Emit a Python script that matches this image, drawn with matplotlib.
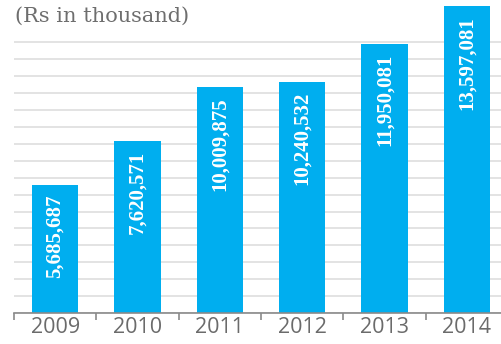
import matplotlib
matplotlib.use("Agg")
import matplotlib.pyplot as plt
import numpy as np

years = ["2009", "2010", "2011", "2012", "2013", "2014"]
values = [5685687, 7620571, 10009875, 10240532, 11950081, 13597081]
labels = ["5,685,687", "7,620,571", "10,009,875", "10,240,532", "11,950,081", "13,597,081"]
title = "(Rs in thousand)"

W, H = 502, 344
fig = plt.figure(figsize=(W / 100, H / 100), dpi=100)
left_px, bottom_px, width_px, height_px = 14, 31, 494, 313
ax = fig.add_axes([left_px / W, bottom_px / H, width_px / W, height_px / H])

x = np.arange(len(years))
ax.bar(x, values, width=0.56, color="#00AEEF", zorder=3)
ax.set_xlim(-0.5, len(years) - 0.5)
ax.set_ylim(0, 13.88e6)

ax.set_yticks(np.arange(0, 12.0e6 + 1, 0.75e6))
ax.yaxis.grid(True, color="#e3e3e3", linewidth=1.4, zorder=0)
ax.tick_params(axis="y", left=False, labelleft=False)

for s in ["top", "right", "left"]:
    ax.spines[s].set_visible(False)
ax.spines["bottom"].set_color("#8a8a8a")
ax.spines["bottom"].set_linewidth(1.2)
ax.spines["bottom"].set_zorder(4)

ax.set_xticks(x)
ax.set_xticklabels(years, fontsize=15.5, color="#6b6b6b", family="Open Sans")
ax.tick_params(axis="x", which="major", length=0, pad=3)
ax.set_xticks(np.arange(-0.5, len(years)), minor=True)
ax.tick_params(axis="x", which="minor", length=5, width=1.2, color="#8a8a8a", direction="out")

for xi, v, lab in zip(x, values, labels):
    ax.annotate(lab, (xi, v), xytext=(0, -7), textcoords="offset points",
                rotation=90, ha="center", va="top", color="white",
                fontsize=15, fontweight="bold", family="Liberation Serif", zorder=5)

fig.text(15 / W, 1 - 7 / H, title, ha="left", va="top", fontsize=15,
         color="#6e6e6e", family="DejaVu Serif")

fig.savefig("out.png", dpi=100)
